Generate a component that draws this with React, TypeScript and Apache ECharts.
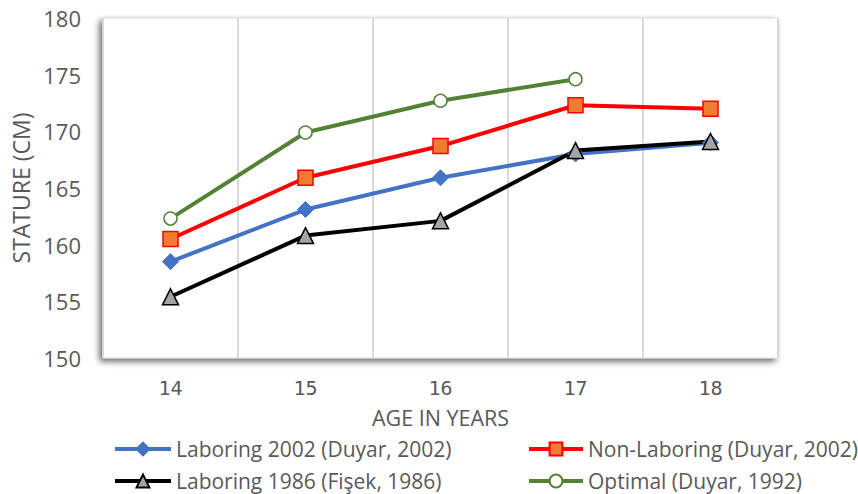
import React, { useEffect, useRef } from "react";
import * as echarts from "echarts";

const ages = ["14", "15", "16", "17", "18"];
const laboring2002 = [158.5, 163.1, 165.9, 168.0, 169.0];
const nonLaboring2002 = [160.5, 165.9, 168.7, 172.3, 172.0];
const laboring1986 = [155.4, 160.8, 162.1, 168.3, 169.1];
const optimal1992 = [162.3, 169.9, 172.7, 174.6, null];

const FONT = "Open Sans";
const GREY = "#595959";

export default function App() {
  const ref = useRef<HTMLDivElement>(null);
  useEffect(() => {
    const chart = echarts.init(ref.current!, null, { renderer: "svg" });
    const legendText = { color: GREY, fontSize: 21, fontFamily: FONT, lineHeight: 24 };
    chart.setOption({
      animation: false,
      backgroundColor: "#fff",
      grid: {
        left: 103,
        right: 80,
        top: 18,
        bottom: 136,
        show: true,
        backgroundColor: "#fff",
        borderColor: "#d9d9d9",
        borderWidth: 1,
        shadowColor: "rgba(0,0,0,0.6)",
        shadowBlur: 6,
        shadowOffsetX: -3,
        shadowOffsetY: 3,
      },
      legend: [
        {
          orient: "vertical",
          left: 113,
          top: 437,
          padding: 0,
          itemWidth: 56,
          itemHeight: 16,
          itemGap: 8,
          lineStyle: { width: 4 },
          textStyle: legendText,
          data: ["Laboring 2002 (Duyar, 2002)", "Laboring 1986 (Fişek, 1986)"],
        },
        {
          orient: "vertical",
          left: 527,
          top: 437,
          padding: 0,
          itemWidth: 54,
          itemHeight: 16,
          itemGap: 8,
          lineStyle: { width: 4 },
          textStyle: legendText,
          data: ["Non-Laboring (Duyar, 2002)", "Optimal (Duyar, 1992)"],
        },
      ],
      xAxis: {
        type: "category",
        data: ages,
        boundaryGap: true,
        name: "AGE IN YEARS",
        nameLocation: "middle",
        nameGap: 48,
        nameTextStyle: { color: GREY, fontSize: 21.5, fontFamily: FONT },
        axisLine: { show: false },
        axisTick: { show: false },
        axisLabel: { color: GREY, fontSize: 20, fontFamily: "DejaVu Sans Mono", margin: 20 },
        splitLine: { show: true, lineStyle: { color: "#d9d9d9", width: 2 } },
      },
      yAxis: {
        type: "value",
        min: 150,
        max: 180,
        interval: 5,
        name: "STATURE (CM)",
        nameLocation: "middle",
        nameGap: 70,
        nameTextStyle: { color: GREY, fontSize: 23, fontFamily: FONT },
        axisLine: { show: false },
        axisTick: { show: false },
        splitLine: { show: false },
        axisLabel: { color: GREY, fontSize: 22, fontFamily: FONT, margin: 22 },
      },
      series: [
        {
          name: "Laboring 2002 (Duyar, 2002)",
          type: "line",
          data: laboring2002,
          symbol: "diamond",
          symbolSize: 16,
          lineStyle: { color: "#4472C4", width: 4 },
          itemStyle: { color: "#4472C4", borderColor: "#4472C4", borderWidth: 1 },
        },
        {
          name: "Non-Laboring (Duyar, 2002)",
          type: "line",
          data: nonLaboring2002,
          symbol: "rect",
          symbolSize: 15,
          lineStyle: { color: "#FF0000", width: 4 },
          itemStyle: { color: "#ED7D31", borderColor: "#FF0000", borderWidth: 1.5 },
        },
        {
          name: "Laboring 1986 (Fişek, 1986)",
          type: "line",
          data: laboring1986,
          symbol: "triangle",
          symbolSize: 16,
          lineStyle: { color: "#000000", width: 4 },
          itemStyle: { color: "#A5A5A5", borderColor: "#000000", borderWidth: 1.5 },
        },
        {
          name: "Optimal (Duyar, 1992)",
          type: "line",
          data: optimal1992,
          symbol: "circle",
          symbolSize: 13,
          showAllSymbol: true,
          lineStyle: { color: "#548235", width: 4 },
          itemStyle: { color: "#ffffff", borderColor: "#548235", borderWidth: 1.5 },
        },
      ],
    });
    return () => chart.dispose();
  }, []);
  return <div ref={ref} style={{ width: 858, height: 494, position: "absolute", left: 0, top: 0 }} />;
}
